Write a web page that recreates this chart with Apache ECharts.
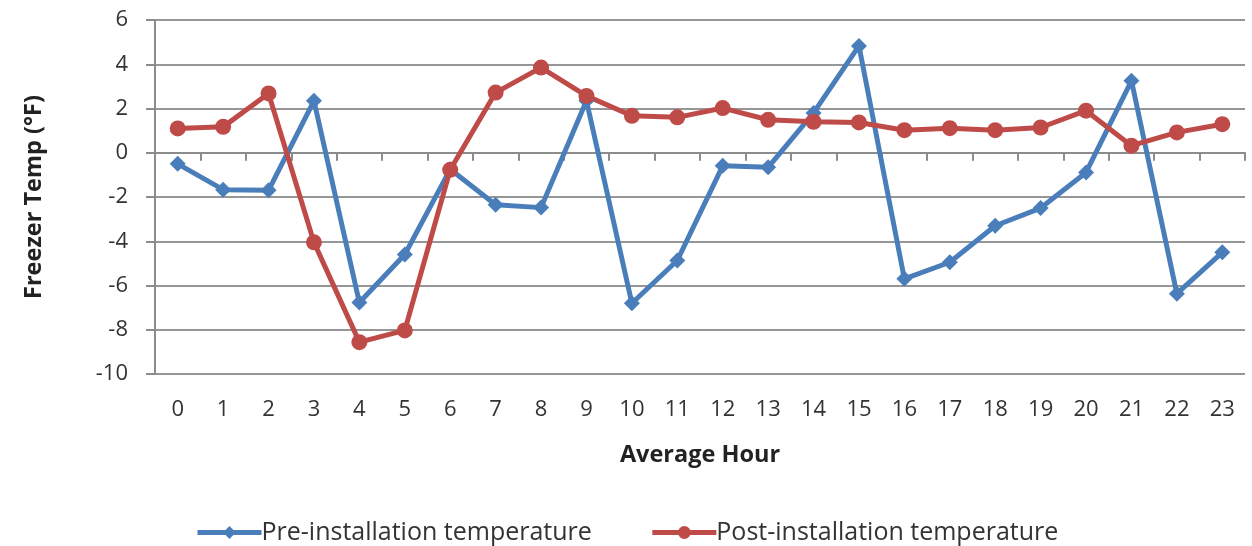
<!DOCTYPE html>
<html><head><meta charset="utf-8">
<script src="https://cdn.jsdelivr.net/npm/echarts@6/dist/echarts.min.js"></script>
<style>html,body{margin:0;padding:0;background:#fff}#c{width:1252px;height:546px}</style>
</head><body><div id="c"></div>
<script>
const hours = ['0','1','2','3','4','5','6','7','8','9','10','11','12','13','14','15','16','17','18','19','20','21','22','23'];
const preInstall = [-0.5,-1.67,-1.7,2.35,-6.77,-4.6,-0.75,-2.35,-2.48,2.35,-6.8,-4.87,-0.59,-0.66,1.8,4.83,-5.7,-4.95,-3.3,-2.5,-0.89,3.25,-6.37,-4.5];
const postInstall = [1.1,1.17,2.68,-4.05,-8.56,-8.03,-0.77,2.72,3.85,2.57,1.67,1.6,2.02,1.49,1.4,1.37,1.02,1.11,1.02,1.14,1.9,0.32,0.92,1.29];
const yTicks = [-10,-8,-6,-4,-2,0,2,4,6];

const FONT = 'Open Sans';
const BLUE = '#4a7ebb', RED = '#be4b48';
const chart = echarts.init(document.getElementById('c'));
chart.setOption({
  animation: false,
  textStyle: {fontFamily: FONT},
  grid: {left: 155, right: 7, top: 20, bottom: 172, containLabel: false},
  legend: {
    left: 195, top: 520, itemWidth: 64, itemHeight: 16, itemGap: 58,
    padding: 0,
    textStyle: {fontFamily: FONT, fontSize: 25, color: '#333', padding: [0,0,0,-5]},
    data: [
      {name: 'Pre-installation temperature', lineStyle: {width: 5, color: BLUE}, itemStyle: {color: BLUE}},
      {name: 'Post-installation temperature', lineStyle: {width: 5, color: RED}, itemStyle: {color: RED}}
    ]
  },
  xAxis: {
    type: 'category', data: hours, boundaryGap: true,
    name: 'Average Hour', nameLocation: 'middle', nameGap: 69,
    nameTextStyle: {fontFamily: FONT, fontSize: 23.5, fontWeight: 'bold', color: '#222'},
    axisLine: {lineStyle: {color: '#8c8c8c', width: 2}},
    axisTick: {show: true, alignWithLabel: false, length: 8, lineStyle: {color: '#8c8c8c', width: 2}},
    axisLabel: {fontFamily: FONT, fontSize: 22, color: '#333', margin: 25, interval: 0}
  },
  yAxis: {
    type: 'value', min: yTicks[0], max: yTicks[yTicks.length-1], interval: 2,
    name: 'Freezer Temp (°F)', nameLocation: 'middle', nameGap: 109, nameRotate: 90,
    nameTextStyle: {fontFamily: FONT, fontSize: 23.5, fontWeight: 'bold', color: '#222'},
    axisLine: {show: true, lineStyle: {color: '#8c8c8c', width: 2}},
    axisTick: {show: true, length: 9, lineStyle: {color: '#8c8c8c', width: 2}},
    axisLabel: {fontFamily: FONT, fontSize: 22, color: '#333', margin: 27},
    splitLine: {show: true, lineStyle: {color: '#969696', width: 2}}
  },
  series: [
    {
      name: 'Pre-installation temperature', type: 'line', data: preInstall,
      symbol: 'diamond', symbolSize: 16,
      lineStyle: {color: BLUE, width: 5},
      itemStyle: {color: BLUE}
    },
    {
      name: 'Post-installation temperature', type: 'line', data: postInstall,
      symbol: 'circle', symbolSize: 16,
      lineStyle: {color: RED, width: 5},
      itemStyle: {color: RED}
    }
  ]
});
</script></body></html>
